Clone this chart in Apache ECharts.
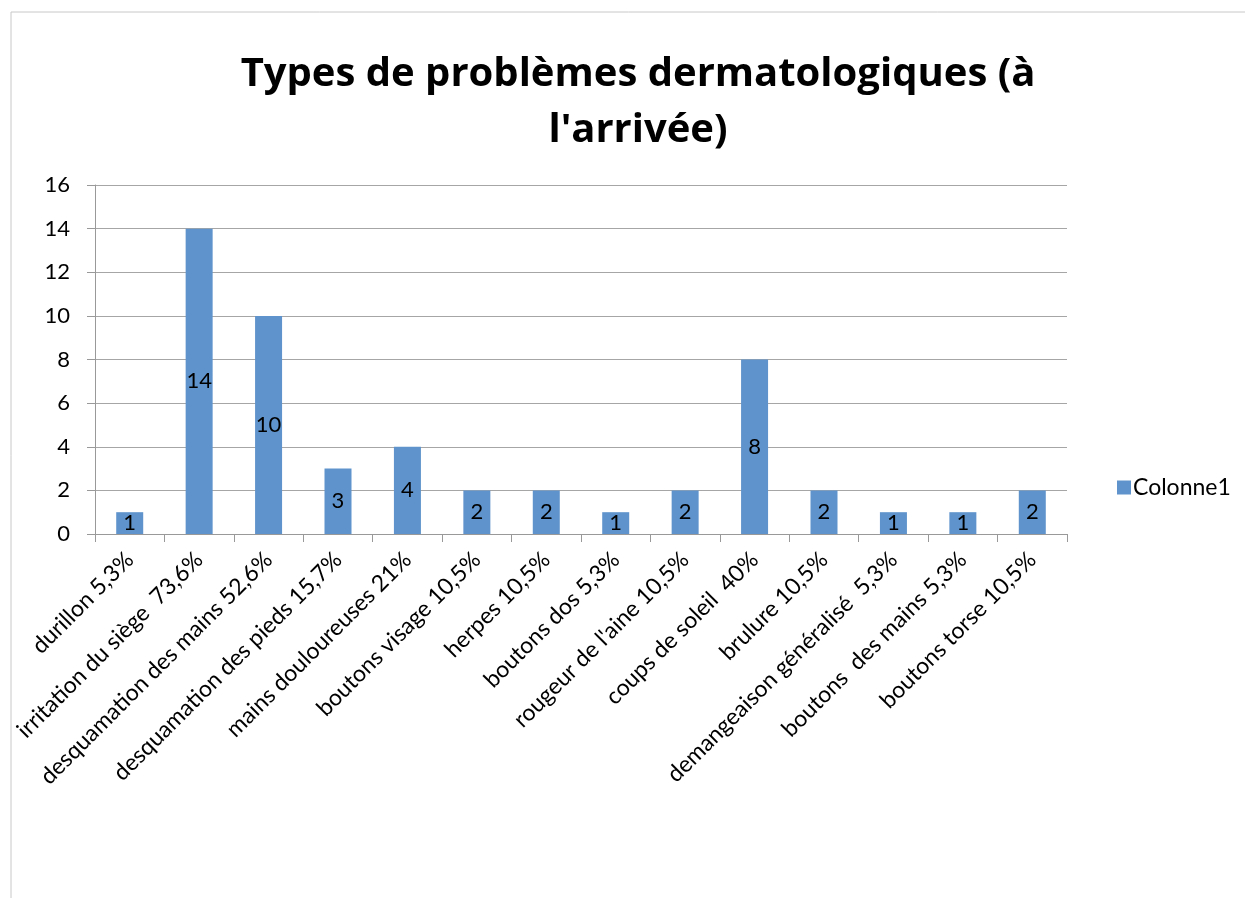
<!DOCTYPE html>
<html>
<head>
<meta charset="utf-8">
<script src="https://cdn.jsdelivr.net/npm/echarts@6/dist/echarts.min.js"></script>
<style>
  html, body { margin: 0; padding: 0; background: #fff; }
  #chart { width: 1245px; height: 898px; }
</style>
</head>
<body>
<div id="chart"></div>
<script>
// categories (x axis) and counts
const categories = [
  'durillon 5,3%',
  'irritation du siège  73,6%',
  'desquamation des mains 52,6%',
  'desquamation des pieds 15,7%',
  'mains douloureuses 21%',
  'boutons visage 10,5%',
  'herpes 10,5%',
  'boutons dos 5,3%',
  "rougeur de l'aine 10,5%",
  'coups de soleil  40%',
  'brulure 10,5%',
  'demangeaison généralisé  5,3%',
  'boutons  des mains 5,3%',
  'boutons torse 10,5%'
];
const colonne1 = [1, 14, 10, 3, 4, 2, 2, 1, 2, 8, 2, 1, 1, 2];
const seriesName = 'Colonne1';
const chartTitle = "Types de problèmes dermatologiques (à\nl'arrivée)";

const fontFam = 'Lato, "Open Sans", sans-serif';
const chart = echarts.init(document.getElementById('chart'));

chart.setOption({
  backgroundColor: '#fff',
  animation: false,
  title: {
    text: chartTitle,
    left: 633,
    textAlign: 'center',
    top: 42,
    textStyle: {
      fontFamily: '"Open Sans", Lato, sans-serif',
      fontWeight: 'bold',
      fontSize: 40,
      lineHeight: 56,
      color: '#000'
    }
  },
  legend: {
    data: [seriesName],
    orient: 'vertical',
    left: 1112,
    top: 471,
    itemWidth: 14,
    itemHeight: 14,
    itemGap: 5,
    icon: 'rect',
    textStyle: { fontFamily: fontFam, fontSize: 23, color: '#000', padding: [0, 0, 0, -3] }
  },
  grid: {
    left: 95,
    right: 178,
    top: 185,
    bottom: 364,
    containLabel: false
  },
  xAxis: {
    type: 'category',
    data: categories,
    axisLine: { lineStyle: { color: '#999', width: 1 } },
    axisTick: { show: true, length: 8, alignWithLabel: false, lineStyle: { color: '#999' } },
    axisLabel: {
      interval: 0,
      rotate: 45,
      margin: 22,
      fontFamily: fontFam,
      fontSize: 23,
      color: '#000'
    }
  },
  yAxis: {
    type: 'value',
    min: 0,
    max: 16,
    interval: 2,
    axisLine: { show: true, lineStyle: { color: '#999' } },
    axisTick: { show: true, length: 8, lineStyle: { color: '#999' } },
    splitLine: { lineStyle: { color: '#a6a6a6', width: 1 } },
    axisLabel: {
      margin: 25,
      fontFamily: fontFam,
      fontSize: 22,
      color: '#000'
    }
  },
  series: [{
    name: seriesName,
    type: 'bar',
    data: colonne1,
    barWidth: 27,
    itemStyle: { color: '#5f93cb' },
    label: {
      show: true,
      position: 'inside',
      fontFamily: fontFam,
      fontSize: 22,
      color: '#000'
    }
  }],
  graphic: [{
    type: 'rect',
    shape: { x: 11, y: 12, width: 1300, height: 1000 },
    style: { fill: 'none', stroke: '#c8c8c8', lineWidth: 1 },
    silent: true
  }]
});
</script>
</body>
</html>
